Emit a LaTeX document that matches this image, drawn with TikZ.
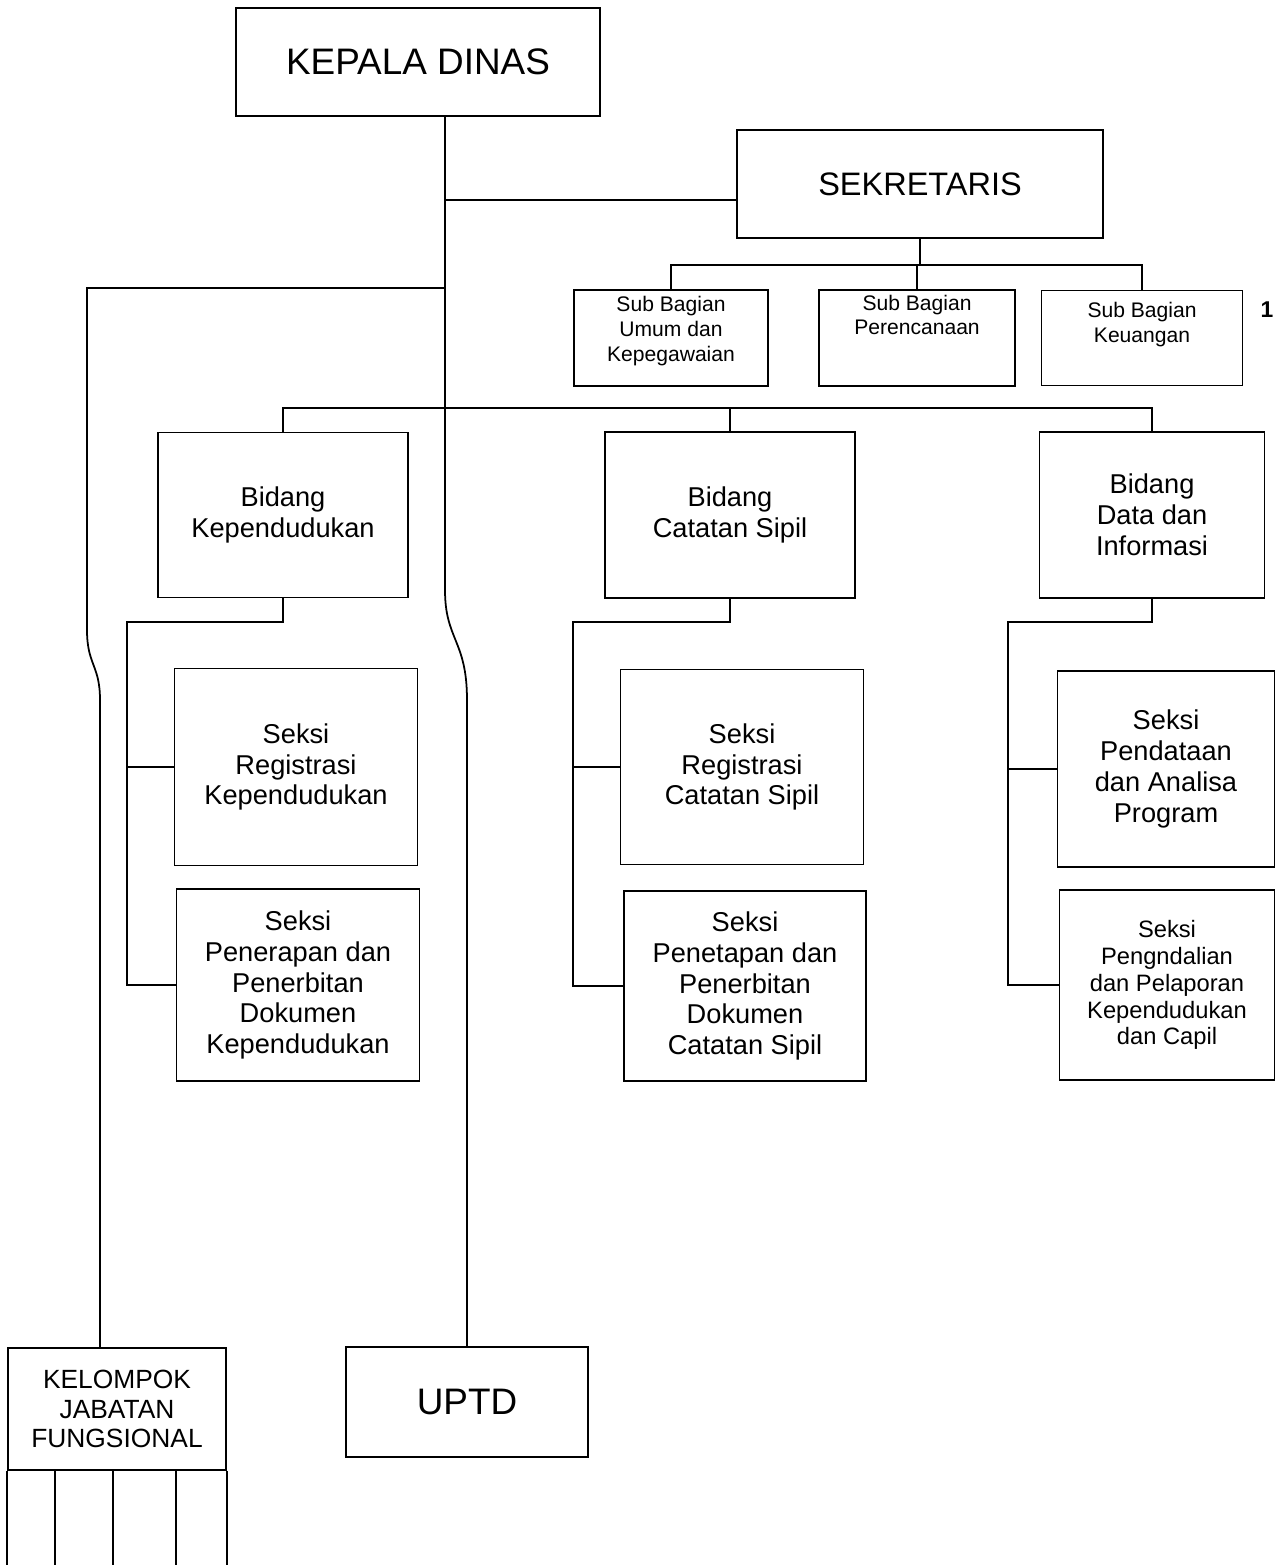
\documentclass[tikz,border=0pt]{standalone}
\usepackage{fontspec}
\setmainfont{Liberation Sans}
\usetikzlibrary{positioning}

\tikzset{
  orgbox/.style={draw, line width=1pt, inner sep=2pt, align=center},
  headtxt/.style={font=\fontsize{21}{25}\selectfont},
  seksitxt/.style={font=\fontsize{15.5}{17.6}\selectfont},
  subtxt/.style={inner sep=1pt, align=center, font=\fontsize{12}{14.2}\selectfont},
  smalltxt/.style={font=\fontsize{13.5}{15.3}\selectfont},
  link/.style={line width=1pt},
}

\begin{document}
\begin{tikzpicture}[x=0.02cm, y=-0.02cm]
  \useasboundingbox (0,0) rectangle (1285,1565);

  % top level
  \node[orgbox, headtxt, minimum width=7.28cm, minimum height=2.16cm] (kepala) at (418,62) {KEPALA DINAS};
  \node[orgbox, font=\fontsize{18.5}{22}\selectfont, minimum width=7.32cm, minimum height=2.16cm] (sekr) at (920,184) {SEKRETARIS};

  % sub bagian
  \node[orgbox, minimum width=3.88cm, minimum height=1.92cm] (umum) at (671,338) {};
  \node[orgbox, minimum width=3.92cm, minimum height=1.92cm] (perenc) at (917,338) {};
  \node[orgbox, minimum width=4.02cm, minimum height=1.9cm] (keu) at (1142,338) {};
  \node[subtxt, below=3pt of umum.north] (umumtxt) {Sub Bagian\\Umum dan\\Kepegawaian};
  \node[subtxt, below=2pt of perenc.north] (perenctxt) {Sub Bagian\\Perencanaan};
  \node[subtxt, below=6pt of keu.north] (keutxt) {Sub Bagian\\Keuangan};
  \node[font=\bfseries\fontsize{13}{15}\selectfont] (mark) at (1267,310) {1};

  % bidang
  \node[orgbox, seksitxt, minimum width=5cm, minimum height=3.3cm] (bkep) at (283,515) {Bidang\\Kependudukan};
  \node[orgbox, seksitxt, minimum width=5cm, minimum height=3.32cm] (bcap) at (730,515) {Bidang\\Catatan Sipil};
  \node[orgbox, seksitxt, minimum width=4.5cm, minimum height=3.32cm] (bdata) at (1152,515) {Bidang\\Data dan\\Informasi};

  % seksi
  \node[orgbox, seksitxt, minimum width=4.86cm, minimum height=3.94cm] (sregk) at (296,767) {Seksi\\Registrasi\\Kependudukan};
  \node[orgbox, seksitxt, minimum width=4.86cm, minimum height=3.84cm] (spenk) at (298,985) {Seksi\\Penerapan dan\\Penerbitan\\Dokumen\\Kependudukan};
  \node[orgbox, seksitxt, minimum width=4.86cm, minimum height=3.9cm] (sregc) at (742,767) {Seksi\\Registrasi\\Catatan Sipil};
  \node[orgbox, seksitxt, minimum width=4.84cm, minimum height=3.8cm] (spenc) at (745,986) {Seksi\\Penetapan dan\\Penerbitan\\Dokumen\\Catatan Sipil};
  \node[orgbox, seksitxt, minimum width=4.34cm, minimum height=3.92cm] (sdata) at (1166,769) {Seksi\\Pendataan\\dan Analisa\\Program};
  \node[orgbox, smalltxt, minimum width=4.3cm, minimum height=3.8cm] (spgd) at (1167,985) {Seksi\\Pengndalian\\dan Pelaporan\\Kependudukan\\dan Capil};

  % bottom
  \node[orgbox, font=\fontsize{15}{17}\selectfont, minimum width=4.36cm, minimum height=2.44cm] (kjf) at (117,1409) {KELOMPOK\\JABATAN\\FUNGSIONAL};
  \node[orgbox, headtxt, minimum width=4.84cm, minimum height=2.2cm] (uptd) at (467,1402) {UPTD};

  % joints
  \coordinate (trk) at (445,200);
  \coordinate (lft) at (445,288);
  \coordinate (sbus) at (920,265);
  \coordinate (bbus) at (726,408);
  \coordinate (lk) at (127,622);
  \coordinate (mk) at (573,622);
  \coordinate (rk) at (1008,622);
  \coordinate (bot) at (0,1565);

  % trunk
  \draw[link] (kepala.south -| trk) -- (445,590) .. controls (445,640) and (467,640) .. (467,700) -- (uptd.north);
  \draw[link] (trk) -- (sekr.west |- trk);
  \draw[link] (lft) -- (87,288) -- (87,630) .. controls (87,665) and (100,665) .. (100,700) -- (kjf.north -| 100,0);

  % sekretaris
  \draw[link] (sekr.south) -- (sekr.south |- sbus);
  \draw[link] (umum.north) |- (sbus) -| (keu.north);
  \draw[link] (perenc.north) -- (perenc.north |- sbus);

  % bidang
  \draw[link] (bkep.north) |- (bbus) -| (bdata.north);
  \draw[link] (bcap.north) -- (bcap.north |- bbus);

  % seksi
  \draw[link] (bkep.south) |- (lk) |- (spenk.west);
  \draw[link] (lk |- sregk.west) -- (sregk.west);
  \draw[link] (bcap.south) |- (mk) |- (spenc.west);
  \draw[link] (mk |- sregc.west) -- (sregc.west);
  \draw[link] (bdata.south) |- (rk) |- (spgd.west);
  \draw[link] (rk |- sdata.west) -- (sdata.west);

  % kelompok columns
  \foreach \cx in {55,113,176} {
    \draw[link] (kjf.south -| \cx,0) -- (bot -| \cx,0);
  }
  \draw[link] (kjf.south west) -- (kjf.south west |- bot);
  \draw[link] (kjf.south east) -- (kjf.south east |- bot);
\end{tikzpicture}
\end{document}
